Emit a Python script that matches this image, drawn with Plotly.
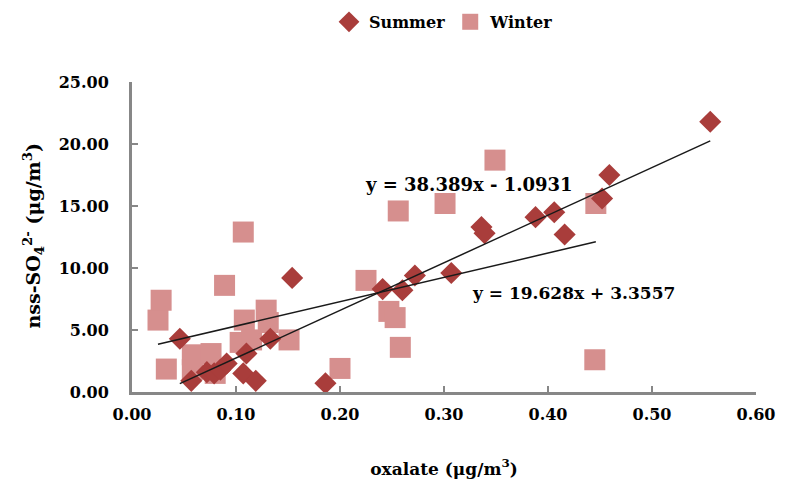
import plotly.graph_objects as go

# Oxalate (µg/m3) and nss-SO4 2- (µg/m3) samples by season
summer_oxalate = [0.046, 0.057, 0.072, 0.079, 0.085, 0.091, 0.107, 0.119, 0.110, 0.133,
                  0.154, 0.186, 0.241, 0.260, 0.272, 0.307, 0.336, 0.339, 0.388, 0.406,
                  0.416, 0.452, 0.459, 0.556]
summer_so4 = [4.3, 0.9, 1.6, 1.5, 1.8, 2.3, 1.5, 0.9, 3.1, 4.3,
              9.2, 0.7, 8.3, 8.2, 9.4, 9.6, 13.3, 12.8, 14.1, 14.5,
              12.7, 15.6, 17.5, 21.8]

winter_oxalate = [0.025, 0.028, 0.033, 0.058, 0.058, 0.076, 0.080, 0.089, 0.107, 0.108,
                  0.104, 0.115, 0.129, 0.131, 0.151, 0.200, 0.225, 0.247, 0.253, 0.258,
                  0.256, 0.301, 0.349, 0.446, 0.445]
winter_so4 = [5.8, 7.4, 1.85, 3.0, 1.8, 3.1, 1.5, 8.6, 12.9, 5.8,
              4.0, 4.2, 6.6, 5.6, 4.2, 1.9, 9.0, 6.5, 6.0, 3.6,
              14.6, 15.2, 18.7, 15.2, 2.6]

# Linear fits (slope, intercept)
summer_fit = (38.389, -1.0931)
winter_fit = (19.628, 3.3557)

x_ticks = [0.0, 0.1, 0.2, 0.3, 0.4, 0.5, 0.6]
y_ticks = [0, 5, 10, 15, 20, 25]

SUMMER_COLOR = "#A93D3B"
WINTER_COLOR = "#D68F8E"
AXIS_COLOR = "#878787"
FONT = "DejaVu Serif"


def bold(size):
    return dict(family=FONT, size=size, color="black", weight="bold")


def fit_line(xs, coef):
    x0, x1 = min(xs), max(xs)
    return [x0, x1], [coef[0] * x0 + coef[1], coef[0] * x1 + coef[1]]


fig = go.Figure()

fig.add_trace(go.Scatter(
    x=winter_oxalate, y=winter_so4, mode="markers", name="Winter",
    marker=dict(symbol="square", size=21, color=WINTER_COLOR),
    cliponaxis=False,
))
fig.add_trace(go.Scatter(
    x=summer_oxalate, y=summer_so4, mode="markers", name="Summer",
    marker=dict(symbol="diamond", size=17, color=SUMMER_COLOR),
    cliponaxis=False,
))

for xs, coef in ((summer_oxalate, summer_fit), (winter_oxalate, winter_fit)):
    lx, ly = fit_line(xs, coef)
    fig.add_trace(go.Scatter(
        x=lx, y=ly, mode="lines", showlegend=False, hoverinfo="skip",
        line=dict(color="#1a1a1a", width=1.5),
    ))

fig.add_annotation(
    x=0.222, y=16.7, xref="x", yref="y", xanchor="left", yanchor="middle",
    text="y = 38.389x - 1.0931", showarrow=False, font=bold(18),
)
fig.add_annotation(
    x=0.325, y=8.0, xref="x", yref="y", xanchor="left", yanchor="middle",
    text="y = 19.628x + 3.3557", showarrow=False, font=bold(17),
)

# Y-axis title placed as a rotated annotation
fig.add_annotation(
    x=-0.158, y=0.506, xref="paper", yref="paper", xanchor="center", yanchor="middle",
    text="nss-SO<sub>4</sub><sup>2-</sup> (μg/m<sup>3</sup>)", textangle=-90,
    showarrow=False, font=bold(19),
)

axis_common = dict(
    showline=True, linecolor=AXIS_COLOR, linewidth=3,
    ticks="inside", ticklen=6, tickwidth=2, tickcolor=AXIS_COLOR,
    showgrid=False, zeroline=False,
    tickfont=bold(16),
)

fig.update_xaxes(
    range=[0, 0.6], tickvals=x_ticks, tickformat=".2f",
    ticklabelstandoff=6,
    title=dict(text="oxalate (μg/m<sup>3</sup>)", standoff=40, font=bold(17)),
    **axis_common,
)
fig.update_yaxes(
    range=[0, 25], tickvals=y_ticks, tickformat=".2f",
    ticklabelstandoff=17,
    **axis_common,
)

fig.update_layout(
    width=787, height=488,
    margin=dict(l=132, r=21, t=82, b=96),
    plot_bgcolor="white", paper_bgcolor="white",
    showlegend=True,
    legend=dict(
        orientation="h", x=0.5, y=0.99, xref="paper", yref="container",
        xanchor="center", yanchor="top", traceorder="reversed",
        font=bold(16), itemwidth=30,
    ),
)

fig.write_html("out.html")
